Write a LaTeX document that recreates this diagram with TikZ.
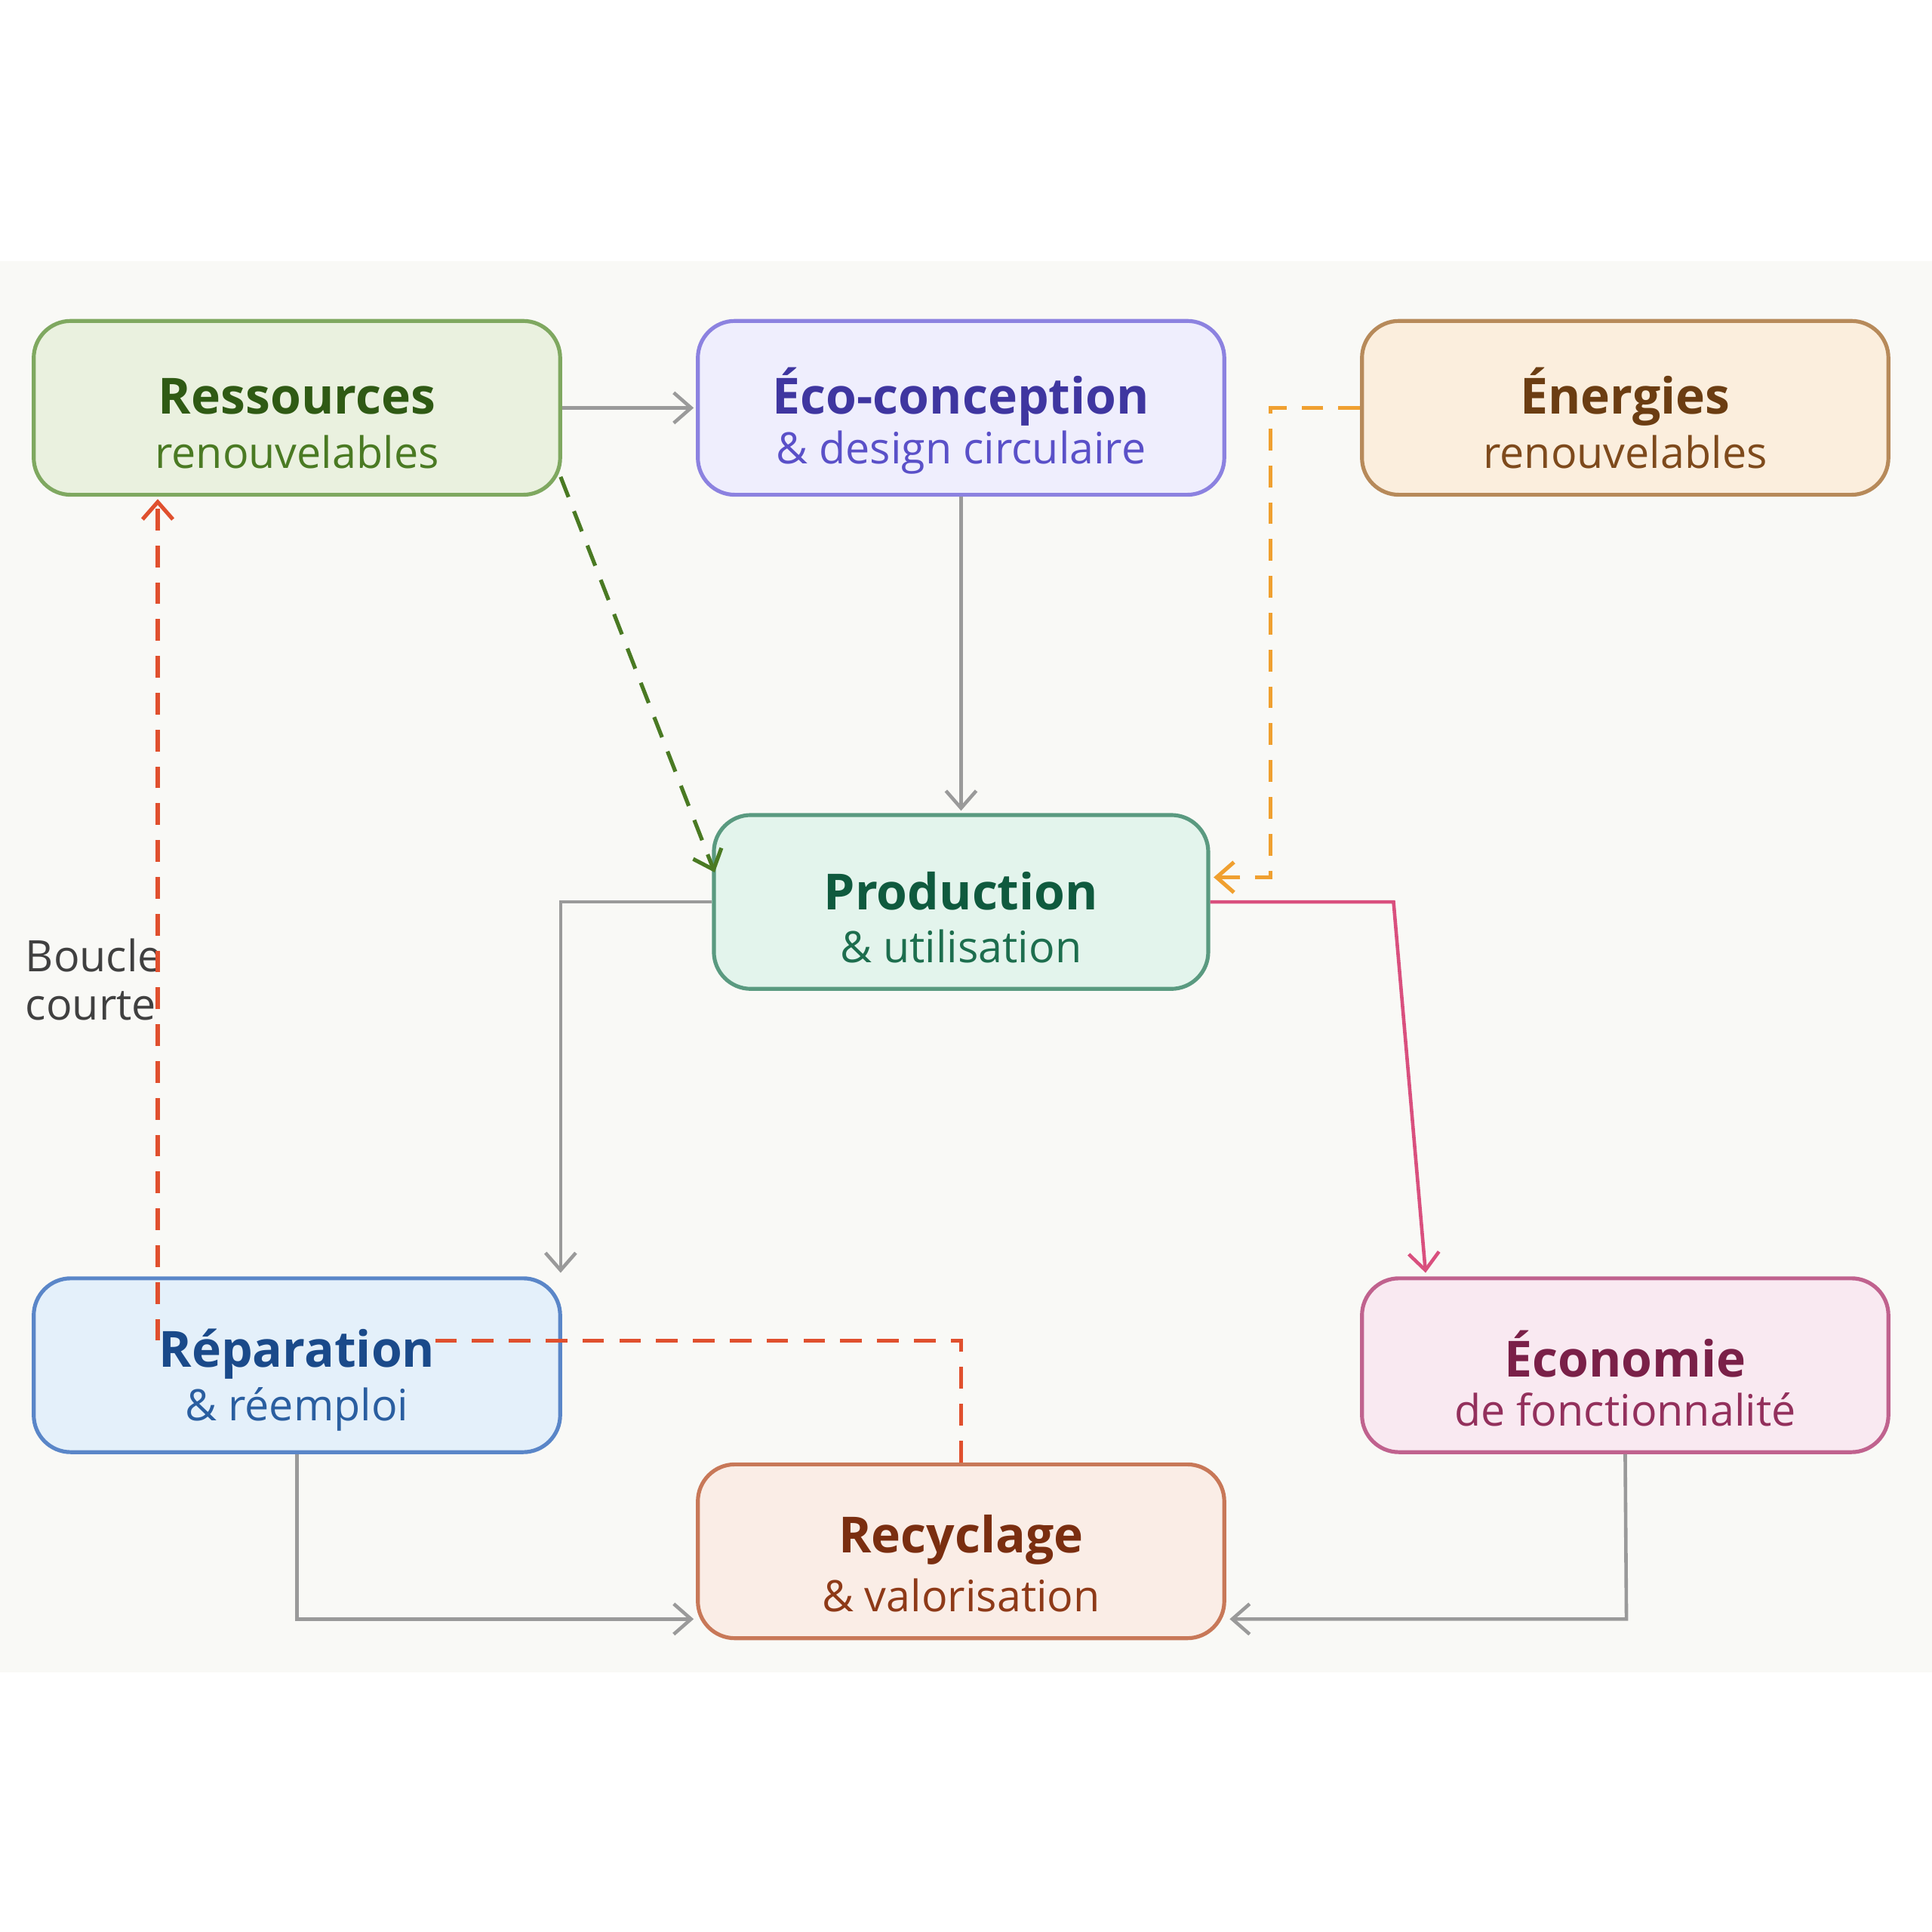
\documentclass[tikz,border=0pt]{standalone}
\usepackage{fontspec}
\setmainfont{Open Sans}
\usetikzlibrary{arrows.meta}
\definecolor{bg}{HTML}{F9F9F6}
\definecolor{ln}{HTML}{9A9A9A}
\definecolor{gF}{HTML}{EAF1DF}\definecolor{gD}{HTML}{7FA860}\definecolor{gT}{HTML}{2F5A14}\definecolor{gS}{HTML}{4A7A23}
\definecolor{pF}{HTML}{EFEEFD}\definecolor{pD}{HTML}{8C82E0}\definecolor{pT}{HTML}{3F36A0}\definecolor{pS}{HTML}{5A50C8}
\definecolor{oF}{HTML}{FBEEDD}\definecolor{oD}{HTML}{B78A5A}\definecolor{oT}{HTML}{6B3D12}\definecolor{oS}{HTML}{7E4A1C}
\definecolor{tF}{HTML}{E3F4EC}\definecolor{tD}{HTML}{5A9A80}\definecolor{tT}{HTML}{0F5A3E}\definecolor{tS}{HTML}{1D6E4E}
\definecolor{bF}{HTML}{E4F0FA}\definecolor{bD}{HTML}{5A86C8}\definecolor{bT}{HTML}{1A4A8A}\definecolor{bS}{HTML}{2A5EA0}
\definecolor{mF}{HTML}{F9E9F1}\definecolor{mD}{HTML}{C0628E}\definecolor{mT}{HTML}{7A2048}\definecolor{mS}{HTML}{93305C}
\definecolor{rF}{HTML}{FAEDE6}\definecolor{rD}{HTML}{C87858}\definecolor{rT}{HTML}{7A2E10}\definecolor{rS}{HTML}{8E3A18}
\definecolor{dash}{HTML}{E0502E}\definecolor{dashO}{HTML}{F0A030}\definecolor{dashG}{HTML}{4A7A23}\definecolor{pink}{HTML}{D9507E}
\begin{document}
\begin{tikzpicture}[x=0.01cm,y=-0.01cm,
 box/.style={draw,line width=0.9pt,rounded corners=0.3cm,minimum width=4.27cm,minimum height=1.41cm,inner sep=0pt},
 nbox/.style={box,minimum width=4.01cm},
 ar/.style={-{Straight Barb[length=4pt,width=7pt]},line width=0.8pt},
 con/.style={ar,draw=ln},
 dsh/.style={line width=0.9pt,dash pattern=on 5pt off 3.5pt},
 t/.style={font=\bfseries\fontsize{11.5}{13}\selectfont,inner sep=0pt},
 s/.style={font=\fontsize{10}{12}\selectfont,inner sep=0pt}]
\useasboundingbox (0,0) rectangle (1568,1568);
\fill[white] (0,0) rectangle (1568,1568);
\fill[bg] (0,212) rectangle (1568,1357);
% boxes
\node[box,draw=gD,fill=gF] (res) at (241,331) {};
\node[box,draw=pD,fill=pF] (eco) at (780,331) {};
\node[box,draw=oD,fill=oF] (ene) at (1319,331) {};
\node[nbox,draw=tD,fill=tF] (pro) at (780,732) {};
\node[box,draw=bD,fill=bF] (rep) at (241,1108) {};
\node[box,draw=mD,fill=mF] (ecn) at (1319,1108) {};
\node[box,draw=rD,fill=rF] (rec) at (780,1259) {};
% texts
\node[t,text=gT] (resT) at (241,322) {Ressources};
\node[s,text=gS] (resS) at (241,367) {renouvelables};
\node[t,text=pT] (ecoT) at (780,322) {Éco-conception};
\node[s,text=pS] (ecoS) at (780,367) {\& design circulaire};
\node[t,text=oT] (eneT) at (1319,322) {Énergies};
\node[s,text=oS] (eneS) at (1319,367) {renouvelables};
\node[t,text=tT] (proT) at (780,723) {Production};
\node[s,text=tS] (proS) at (780,768) {\& utilisation};
\node[t,text=bT] (repT) at (241,1099) {Réparation};
\node[s,text=bS] (repS) at (241,1144) {\& réemploi};
\node[t,text=mT] (ecnT) at (1319,1099) {Économie};
\node[s,text=mS] (ecnS) at (1319,1144) {de fonctionnalité};
\node[t,text=rT] (recT) at (780,1250) {Recyclage};
\node[s,text=rS] (recS) at (780,1295) {\& valorisation};
\node[s,text=black!75,align=left,anchor=west,font=\fontsize{10}{11.2}\selectfont] (bc) at (20,795) {Boucle\\courte};
% coordinates
\coordinate (a1) at (563,331);
\coordinate (a2) at (780,658);
\coordinate (g1) at (455,387); \coordinate (g2) at (580,708);
\coordinate (o1) at (1031,331); \coordinate (o2) at (1031,712); \coordinate (o3) at (985,712);
\coordinate (p1) at (455,732); \coordinate (p2) at (455,1033);
\coordinate (k1) at (1131,732); \coordinate (k2) at (1157,1033);
\coordinate (r1) at (241,1314); \coordinate (r2) at (563,1314);
\coordinate (e1) at (1320,1314); \coordinate (e2) at (998,1314);
\coordinate (d1) at (780,1088); \coordinate (d2) at (345,1088);
\coordinate (d3) at (128,1088); \coordinate (d4) at (128,405);
% connectors
\draw[con] (res.east) -- (a1);
\draw[con] (eco.south) -- (a2);
\draw[ar,dsh,draw=dashG] (g1) -- (g2);
\draw[ar,dsh,draw=dashO] (ene.west) -- (o1) -- (o2) -- (o3);
\draw[con] (pro.west) -- (p1) -- (p2);
\draw[ar,draw=pink] (pro.east) -- (k1) -- (k2);
\draw[con] (rep.south) -- (r1) -- (r2);
\draw[con] (ecn.south) -- (e1) -- (e2);
\draw[dsh,draw=dash] (rec.north) -- (d1) -- (d2);
\draw[ar,dsh,draw=dash] (d3) -- (d4);
\end{tikzpicture}
\end{document}
